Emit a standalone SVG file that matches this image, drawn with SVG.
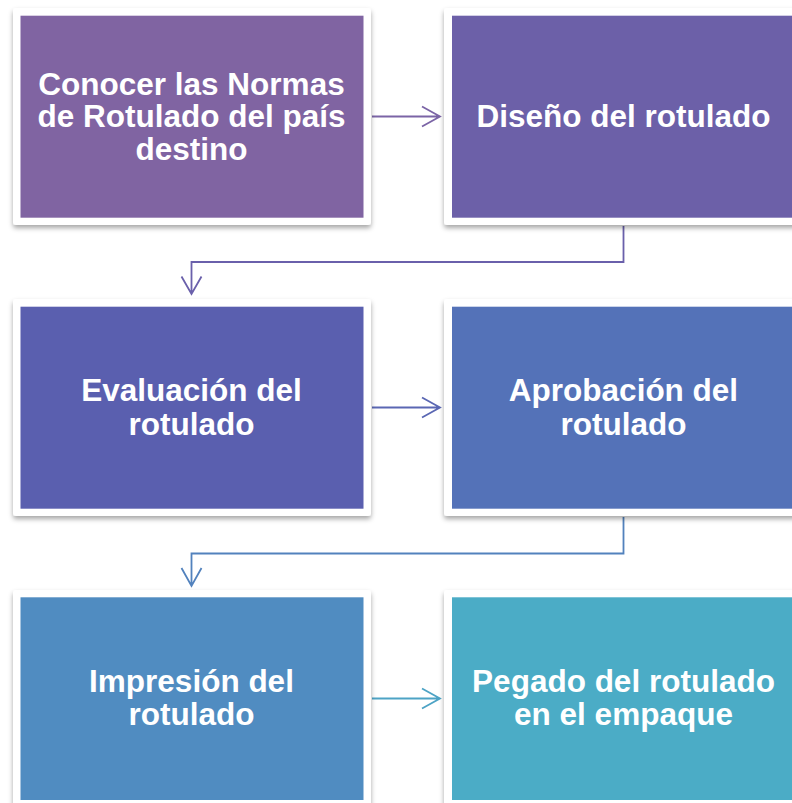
<svg xmlns="http://www.w3.org/2000/svg" width="792" height="803" viewBox="0 0 792 803">
<style>
.frame{fill:#ffffff;filter:url(#sh)}
.lbl{font-family:"Liberation Sans",Arial,sans-serif;font-weight:bold;font-size:31.5px;fill:#ffffff;text-anchor:middle}
.conn{fill:none;stroke-width:1.8}
</style>
<defs>
<filter id="sh" x="-10%" y="-10%" width="120%" height="130%">
<feDropShadow dx="0" dy="3" stdDeviation="2.5" flood-color="#000000" flood-opacity="0.35"/>
</filter>
</defs>
<rect width="792" height="803" fill="#ffffff"/>
<g id="connectors">
<path class="conn" stroke="#7B64A6" d="M372 116.5H440M422 106.5L440 116.5L422 126.5"/>
<path class="conn" stroke="#6A60AB" d="M623.5 226V262H191.5V294M181.5 276.5L191.5 294L201.5 276.5"/>
<path class="conn" stroke="#5A67B3" d="M372 407.5H440M422 397.5L440 407.5L422 417.5"/>
<path class="conn" stroke="#5282BD" d="M623.5 517V553.5H191.5V586M181.5 568L191.5 586L201.5 568"/>
<path class="conn" stroke="#4DA3C5" d="M372 698.5H440M422 688.5L440 698.5L422 708.5"/>
</g>
<g id="n1">
<rect class="frame" x="13" y="8" width="358" height="217" rx="3"/>
<rect x="20.5" y="15.7" width="343" height="202" fill="#8064A2"/>
<text class="lbl" x="191.5" y="94.5">Conocer las Normas</text>
<text class="lbl" x="191.5" y="127">de Rotulado del país</text>
<text class="lbl" x="191.5" y="159.5">destino</text>
</g>
<g id="n2">
<rect class="frame" x="444" y="8" width="358" height="217" rx="3"/>
<rect x="452" y="15.7" width="343" height="202" fill="#6C60A8"/>
<text class="lbl" x="623.5" y="127">Diseño del rotulado</text>
</g>
<g id="n3">
<rect class="frame" x="13" y="299" width="358" height="217" rx="3"/>
<rect x="20.5" y="306.7" width="343" height="202" fill="#5A5FAF"/>
<text class="lbl" x="191.5" y="401">Evaluación del</text>
<text class="lbl" x="191.5" y="434.5">rotulado</text>
</g>
<g id="n4">
<rect class="frame" x="444" y="299" width="358" height="217" rx="3"/>
<rect x="452" y="306.7" width="343" height="202" fill="#5472B8"/>
<text class="lbl" x="623.5" y="401">Aprobación del</text>
<text class="lbl" x="623.5" y="434.5">rotulado</text>
</g>
<g id="n5">
<rect class="frame" x="13" y="590" width="358" height="217" rx="3"/>
<rect x="20.5" y="597.3" width="343" height="202.7" fill="#508CC1"/>
<text class="lbl" x="191.5" y="692">Impresión del</text>
<text class="lbl" x="191.5" y="725">rotulado</text>
</g>
<g id="n6">
<rect class="frame" x="444" y="590" width="358" height="217" rx="3"/>
<rect x="452" y="597.3" width="343" height="202.7" fill="#4BACC6"/>
<text class="lbl" x="623.5" y="692">Pegado del rotulado</text>
<text class="lbl" x="623.5" y="725">en el empaque</text>
</g>
</svg>
